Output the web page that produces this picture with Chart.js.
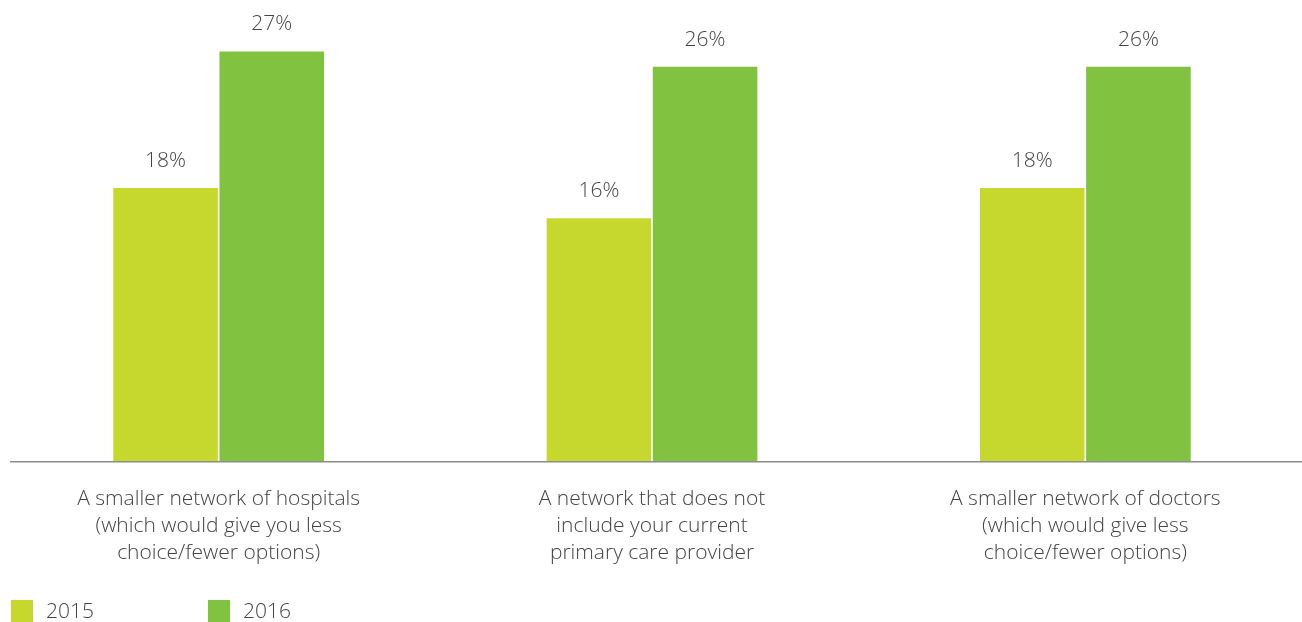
<!DOCTYPE html>
<html>
<head>
<meta charset="utf-8">
<script src="https://cdn.jsdelivr.net/npm/chart.js@4/dist/chart.umd.min.js"></script>
<style>
  html, body { margin: 0; padding: 0; background: #fff; }
  #wrap { width: 1302px; height: 622px; position: relative; }
</style>
</head>
<body>
<div id="wrap"><canvas id="c" width="1302" height="622"></canvas></div>
<script>
// Survey categories (multi-line labels)
const categories = [
  ['A smaller network of hospitals', '(which would give you less', 'choice/fewer options)'],
  ['A network that does not', 'include your current', 'primary care provider'],
  ['A smaller network of doctors', '(which would give less', 'choice/fewer options)']
];
const seriesNames = ['2015', '2016'];
const values2015 = [18, 16, 18];
const values2016 = [27, 26, 26];
const colors = ['#c6d82e', '#81c241'];

const FONT = '"Open Sans", "Noto Sans", sans-serif';
const TEXT = '#444444';

// Percentage labels above each bar
const valueLabels = {
  id: 'valueLabels',
  afterDatasetsDraw(chart) {
    const ctx = chart.ctx;
    ctx.save();
    ctx.font = '300 21px ' + FONT;
    ctx.fillStyle = TEXT;
    ctx.textAlign = 'center';
    ctx.textBaseline = 'middle';
    chart.data.datasets.forEach((ds, i) => {
      chart.getDatasetMeta(i).data.forEach((bar, j) => {
        ctx.fillText(ds.data[j] + '%', bar.x, bar.y - 27);
      });
    });
    ctx.restore();
  }
};

// Baseline rule under the bars
const baseline = {
  id: 'baseline',
  afterDatasetsDraw(chart) {
    const ctx = chart.ctx;
    const y = chart.scales.y.getPixelForValue(0);
    ctx.save();
    ctx.strokeStyle = '#8c8c8c';
    ctx.lineWidth = 1.5;
    ctx.beginPath();
    ctx.moveTo(10, y + 0.75);
    ctx.lineTo(chart.width, y + 0.75);
    ctx.stroke();
    ctx.restore();
  }
};

// Legend swatches along the bottom
const bottomLegend = {
  id: 'bottomLegend',
  afterDraw(chart) {
    const ctx = chart.ctx;
    ctx.save();
    ctx.font = '300 21px ' + FONT;
    ctx.textBaseline = 'middle';
    ctx.textAlign = 'left';
    const y = chart.height - 11;
    chart.data.datasets.forEach((ds, i) => {
      const x = 11 + i * 197;
      ctx.fillStyle = ds.backgroundColor;
      ctx.fillRect(x, y - 11, 22, 22);
      ctx.fillStyle = TEXT;
      ctx.fillText(ds.label, x + 35, y + 1);
    });
    ctx.restore();
  }
};

new Chart(document.getElementById('c'), {
  type: 'bar',
  data: {
    labels: categories,
    datasets: [
      { label: seriesNames[0], data: values2015, backgroundColor: colors[0] },
      { label: seriesNames[1], data: values2016, backgroundColor: colors[1] }
    ]
  },
  options: {
    responsive: false,
    animation: false,
    devicePixelRatio: 1,
    layout: { padding: { top: 6, bottom: 50, left: 2, right: 0 } },
    datasets: { bar: { barPercentage: 0.985, categoryPercentage: 0.49 } },
    plugins: { legend: { display: false }, tooltip: { enabled: false } },
    scales: {
      x: {
        grid: { display: false, drawTicks: false },
        border: { display: false },
        ticks: {
          color: TEXT,
          font: { family: FONT, size: 21, weight: '300', lineHeight: 1.29 },
          padding: 24,
          maxRotation: 0,
          autoSkip: false
        },
        afterFit(scale) { scale.height = 111; }
      },
      y: {
        display: false,
        min: 0,
        max: 30
      }
    }
  },
  plugins: [valueLabels, baseline, bottomLegend]
});
</script>
</body>
</html>
